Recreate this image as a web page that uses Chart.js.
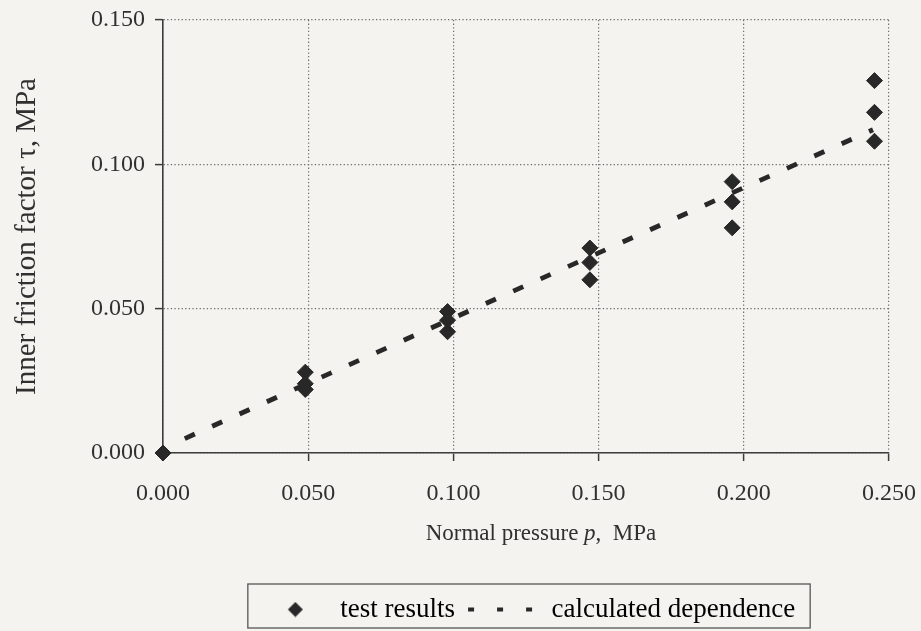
<!DOCTYPE html>
<html>
<head>
<meta charset="utf-8">
<title>Inner friction factor vs normal pressure</title>
<script src="https://cdn.jsdelivr.net/npm/chart.js@4.4.1/dist/chart.umd.min.js"></script>
<style>
  html, body { margin: 0; padding: 0; background: #f4f3ef; }
  #wrap { width: 921px; height: 631px; position: relative; }
</style>
</head>
<body>
<div id="wrap"><canvas id="frictionChart"></canvas></div>
<script>
// normal pressure levels, MPa (three shear tests per level, one at zero)
const pressureLevels = [0, 0.049, 0.098, 0.147, 0.196, 0.245];
const tauRun1 = [0, 0.028, 0.049, 0.071, 0.094, 0.129];
const tauRun2 = [null, 0.024, 0.046, 0.066, 0.087, 0.118];
const tauRun3 = [null, 0.022, 0.042, 0.060, 0.078, 0.108];

// calculated dependence: straight line between these end points
const pressureCalc = [0.0075, 0.2445];
const tauCalc = [0.005, 0.112];

const xTicks = [0, 0.05, 0.1, 0.15, 0.2, 0.25];
const yTicks = [0, 0.05, 0.1, 0.15];
const seriesNames = ['test results', 'calculated dependence'];

const serif = '"Liberation Serif", "Times New Roman", serif';
const ink = '#282828';
const textColor = '#303030';
const axisColor = '#3c3c3c';
const gridColor = '#6e6e6e';

const measured = [];
[tauRun1, tauRun2, tauRun3].forEach(run => {
  run.forEach((tau, i) => {
    if (tau !== null) measured.push({ x: pressureLevels[i], y: tau });
  });
});
const calculated = pressureCalc.map((p, i) => ({ x: p, y: tauCalc[i] }));

// small diamond for the legend, shifted a little to the right inside its box
const diamondIcon = (() => {
  const c = document.createElement('canvas');
  c.width = 22; c.height = 16;
  const g = c.getContext('2d');
  g.fillStyle = ink;
  g.beginPath();
  g.moveTo(7, 8);
  g.lineTo(14.5, 0.5);
  g.lineTo(22, 8);
  g.lineTo(14.5, 15.5);
  g.closePath();
  g.fill();
  return c;
})();

// frame around the legend row
const legendFrame = {
  id: 'legendFrame',
  afterDraw(chart) {
    const lg = chart.legend;
    const boxes = lg && lg.legendHitBoxes;
    if (!boxes || !boxes.length) return;
    const first = boxes[0];
    const last = boxes[boxes.length - 1];
    const left = first.left - 9;
    const right = last.left + last.width + 15;
    const ctx = chart.ctx;
    ctx.save();
    ctx.strokeStyle = '#555555';
    ctx.lineWidth = 1.3;
    ctx.strokeRect(left, lg.top + 1, right - left, 44);
    ctx.restore();
  }
};

// x axis title with the italic p
const pressureTitle = {
  id: 'pressureTitle',
  afterDraw(chart) {
    const parts = [['Normal pressure ', 'normal'], ['p', 'italic'], [',  MPa', 'normal']];
    const ctx = chart.ctx;
    ctx.save();
    ctx.fillStyle = textColor;
    ctx.textBaseline = 'alphabetic';
    ctx.textAlign = 'left';
    const widths = parts.map(([t, s]) => {
      ctx.font = s + ' 23px ' + serif;
      return ctx.measureText(t).width;
    });
    const total = widths.reduce((a, b) => a + b, 0);
    const area = chart.chartArea;
    let x = (area.left + area.right) / 2 + 15 - total / 2;
    const y = chart.scales.x.bottom - 43;
    parts.forEach(([t, s], i) => {
      ctx.font = s + ' 23px ' + serif;
      ctx.fillText(t, x, y);
      x += widths[i];
    });
    ctx.restore();
  }
};

new Chart(document.getElementById('frictionChart'), {
  type: 'scatter',
  data: {
    datasets: [
      {
        label: seriesNames[0],
        data: measured,
        pointStyle: 'rectRot',
        pointRadius: 8,
        pointHoverRadius: 8,
        backgroundColor: ink,
        borderColor: ink,
        borderWidth: 1,
        showLine: false,
        clip: false
      },
      {
        label: seriesNames[1],
        data: calculated,
        showLine: true,
        borderColor: ink,
        borderWidth: 4.8,
        borderDash: [11, 19],
        borderCapStyle: 'butt',
        pointRadius: 0,
        pointHoverRadius: 0,
        fill: false
      }
    ]
  },
  options: {
    responsive: true,
    maintainAspectRatio: false,
    animation: false,
    events: [],
    layout: { padding: { top: 20, right: 32, bottom: 0, left: 0 } },
    scales: {
      x: {
        type: 'linear',
        min: xTicks[0],
        max: xTicks[xTicks.length - 1],
        afterBuildTicks: s => { s.ticks = xTicks.map(v => ({ value: v })); },
        afterFit: s => {
          s.height = 130;
          s.paddingLeft = 0;
          s.paddingRight = 0;
        },
        ticks: {
          font: { family: serif, size: 24 },
          color: textColor,
          padding: 18,
          maxRotation: 0,
          autoSkip: false,
          callback: v => Number(v).toFixed(3)
        },
        grid: {
          color: gridColor,
          lineWidth: 1.2,
          tickLength: 8,
          tickColor: axisColor,
          tickWidth: 1.5,
          tickBorderDash: []
        },
        border: { color: axisColor, width: 1.6, dash: [1.3, 2.3] },
        title: { display: false }
      },
      y: {
        type: 'linear',
        min: yTicks[0],
        max: yTicks[yTicks.length - 1],
        afterBuildTicks: s => { s.ticks = yTicks.map(v => ({ value: v })); },
        afterFit: s => {
          s.width = 163;
          s.paddingTop = 0;
          s.paddingBottom = 0;
        },
        ticks: {
          font: { family: serif, size: 24 },
          color: textColor,
          padding: 10,
          callback: v => Number(v).toFixed(3)
        },
        grid: {
          color: gridColor,
          lineWidth: 1.2,
          tickLength: 8,
          tickColor: axisColor,
          tickWidth: 1.5,
          tickBorderDash: []
        },
        border: { color: axisColor, width: 1.6, dash: [1.3, 2.3] },
        title: {
          display: true,
          text: 'Inner friction factor τ, MPa',
          font: { family: serif, size: 29 },
          color: textColor,
          padding: { top: 10, bottom: 0 }
        }
      }
    },
    plugins: {
      tooltip: { enabled: false },
      legend: {
        position: 'bottom',
        fullSize: false,
        maxHeight: 48,
        labels: {
          usePointStyle: true,
          pointStyleWidth: 70,
          padding: 13,
          color: textColor,
          font: { family: serif, size: 27 },
          generateLabels: () => [
            {
              text: seriesNames[0],
              pointStyle: diamondIcon,
              fillStyle: ink,
              strokeStyle: ink,
              lineWidth: 0,
              datasetIndex: 0,
              hidden: false
            },
            {
              text: seriesNames[1],
              pointStyle: 'line',
              fillStyle: ink,
              strokeStyle: ink,
              lineWidth: 4,
              lineDash: [6, 23],
              datasetIndex: 1,
              hidden: false
            }
          ]
        }
      }
    }
  },
  plugins: [legendFrame, pressureTitle]
});
</script>
</body>
</html>
